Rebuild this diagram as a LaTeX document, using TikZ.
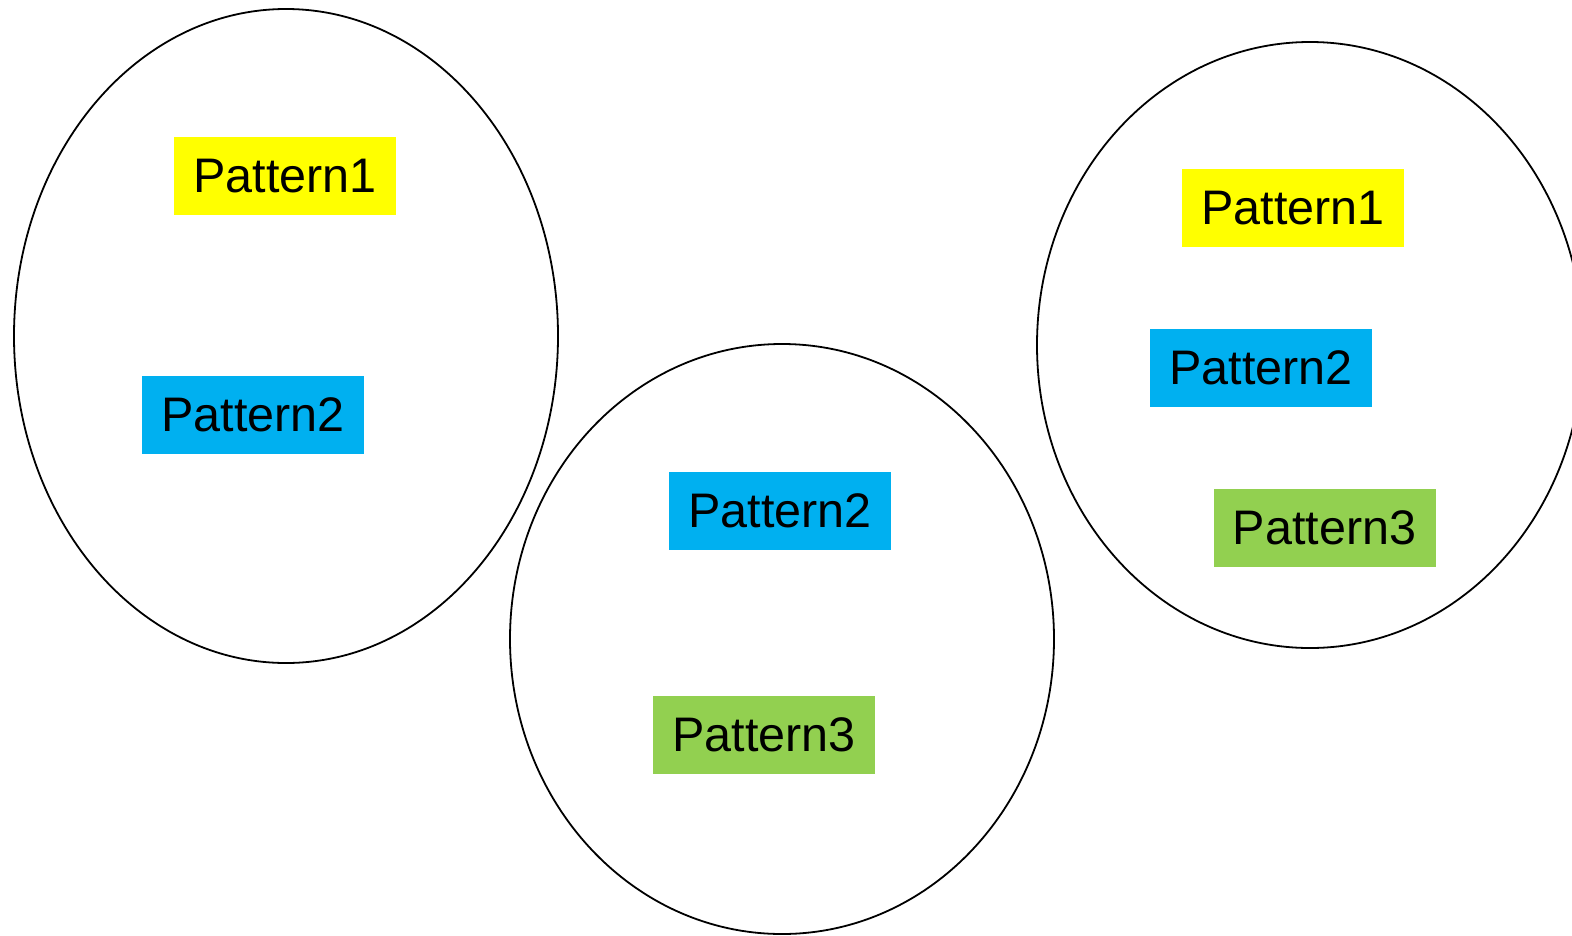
\documentclass[tikz,border=0pt]{standalone}
\usepackage{fontspec}
\setmainfont{Liberation Sans}
\definecolor{pyellow}{HTML}{FFFF00}
\definecolor{pblue}{HTML}{00B0F0}
\definecolor{pgreen}{HTML}{92D050}
\tikzset{
  pat/.style={minimum width=222pt, minimum height=78pt, inner sep=0pt, font=\fontsize{48.5}{58}\selectfont, text=black},
  grp/.style={draw=black, line width=1.8pt}
}
\begin{document}
\begin{tikzpicture}[x=1pt,y=-1pt]
\useasboundingbox (0,0) rectangle (1572,935);
\begin{scope}
\clip (0,0) rectangle (1572,935);
\draw[grp] (286,336) ellipse [x radius=272, y radius=327];
\draw[grp] (782,639) ellipse [x radius=272, y radius=295];
\draw[grp] (1310,345) ellipse [x radius=273, y radius=303];
\end{scope}
\node[pat, fill=pyellow] (l1) at (285,176) {Pattern1};
\node[pat, fill=pblue] (l2) at (253,415) {Pattern2};
\node[pat, fill=pblue] (m2) at (780,511) {Pattern2};
\node[pat, fill=pgreen] (m3) at (764,735) {Pattern3};
\node[pat, fill=pyellow] (r1) at (1293,208) {Pattern1};
\node[pat, fill=pblue] (r2) at (1261,367.5) {Pattern2};
\node[pat, fill=pgreen] (r3) at (1324.5,527.5) {Pattern3};
\end{tikzpicture}
\end{document}
